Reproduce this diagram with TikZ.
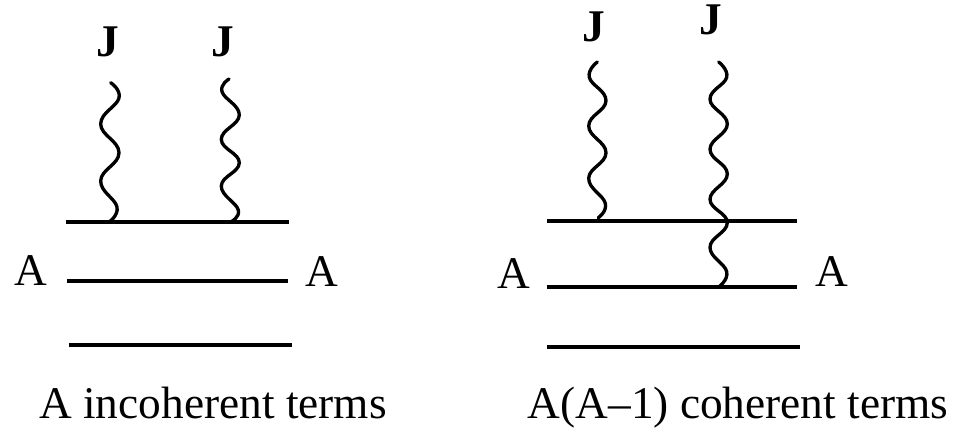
\documentclass[tikz,border=0pt]{standalone}
\usepackage{fontspec}
\setmainfont{Liberation Serif}
\usetikzlibrary{positioning}

\begin{document}
\begin{tikzpicture}[x=0.75pt, y=-0.75pt,
    label_text/.style={inner sep=0pt, anchor=base, font=\fontsize{34}{40}\selectfont},
    j_text/.style={label_text, font=\fontsize{34}{40}\selectfont\bfseries},
    level/.style={draw, line width=3pt},
    wave/.style={draw, line width=2.5pt, line cap=round}]
    \useasboundingbox (0,0) rectangle (955,428);

    % Left side: incoherent
    \node [j_text] (j_a) at (108,56) {J};
    \node [j_text] (j_b) at (223,56) {J};
    \node [label_text] (a_left) at (31,285) {A};
    \node [label_text] (a_right) at (322,286) {A};
    \node [label_text] (cap_left) at (213,418) {A incoherent terms};

    \coordinate (l1_w) at (66,222);
    \coordinate (l1_e) at (289,222);
    \coordinate (l2_w) at (67,281);
    \coordinate (l2_e) at (288,281);
    \coordinate (l3_w) at (69,345);
    \coordinate (l3_e) at (292,345);
    \coordinate (wa_top) at (110.7,82.7);
    \coordinate (wa_end) at (109,222);
    \coordinate (wb_top) at (229,79);
    \coordinate (wb_end) at (230.7,222);

    % Right side: coherent
    \node [j_text] (j_c) at (594,41) {J};
    \node [j_text] (j_d) at (711,35) {J};
    \node [label_text] (a_left2) at (514,288) {A};
    \node [label_text] (a_right2) at (832,286) {A};
    \node [label_text] (cap_right) at (738,418) {A(A--1) coherent terms};

    \coordinate (r1_w) at (547,221);
    \coordinate (r1_e) at (797,221);
    \coordinate (r2_w) at (547,287);
    \coordinate (r2_e) at (797,287);
    \coordinate (r3_w) at (547,346.5);
    \coordinate (r3_e) at (800,346.5);
    \coordinate (wc_top) at (597.3,62);
    \coordinate (wc_end) at (598.3,217.7);
    \coordinate (wd_top) at (718.7,62);
    \coordinate (wd_end) at (718.7,287);

    % Levels
    \draw [level] (l1_w) -- (l1_e);
    \draw [level] (l2_w) -- (l2_e);
    \draw [level] (l3_w) -- (l3_e);
    \draw [level] (r1_w) -- (r1_e);
    \draw [level] (r2_w) -- (r2_e);
    \draw [level] (r3_w) -- (r3_e);

    % Wavy lines
    \draw [wave] plot [smooth, tension=0.75] coordinates {(wa_top) (119,98) (100.7,124) (119,152.7) (100.7,180.7) (117,207) (wa_end)};
    \draw [wave] plot [smooth, tension=0.75] coordinates {(wb_top) (222,91.7) (239.3,115) (221.3,139.3) (239.3,162.7) (221.3,186) (238.3,210) (wb_end)};
    \draw [wave] plot [smooth, tension=0.75] coordinates {(wc_top) (589.3,77.3) (606,100.7) (588.7,126) (606,152.7) (588.7,178.3) (605.3,203.3) (wc_end)};
    \draw [wave] plot [smooth, tension=0.75] coordinates {(wd_top) (726.7,77.3) (710,99.3) (727.3,124) (710,149.3) (727.3,174) (710,199.3) (727.3,222.7) (710,247.3) (726.7,271.7) (wd_end)};
\end{tikzpicture}
\end{document}
